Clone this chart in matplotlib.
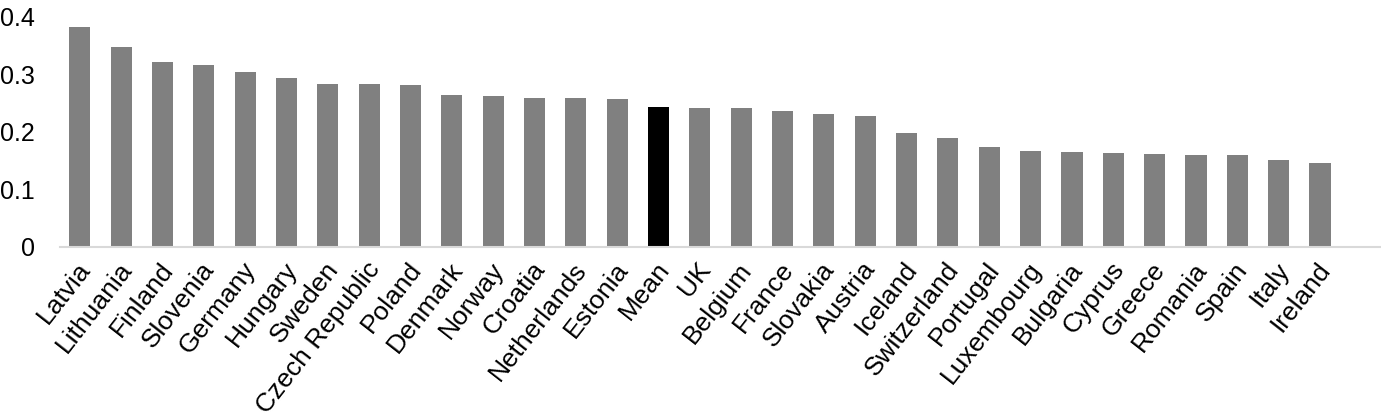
import matplotlib.pyplot as plt
from matplotlib.transforms import ScaledTranslation

countries = ['Latvia', 'Lithuania', 'Finland', 'Slovenia', 'Germany', 'Hungary', 'Sweden',
             'Czech Republic', 'Poland', 'Denmark', 'Norway', 'Croatia', 'Netherlands', 'Estonia',
             'Mean', 'UK', 'Belgium', 'France', 'Slovakia', 'Austria', 'Iceland', 'Switzerland',
             'Portugal', 'Luxembourg', 'Bulgaria', 'Cyprus', 'Greece', 'Romania', 'Spain', 'Italy',
             'Ireland']
values = [0.382, 0.347, 0.321, 0.316, 0.304, 0.293, 0.283, 0.282, 0.281, 0.263, 0.262, 0.258,
          0.258, 0.257, 0.2425, 0.241, 0.241, 0.236, 0.230, 0.227, 0.197, 0.189, 0.174, 0.166,
          0.165, 0.163, 0.161, 0.160, 0.160, 0.151, 0.146]
yticks = [0, 0.1, 0.2, 0.3, 0.4]
ytick_labels = ['0', '0.1', '0.2', '0.3', '0.4']

plt.rcParams['font.family'] = ['Liberation Sans', 'DejaVu Sans']

colors = ['#000000' if c == 'Mean' else '#808080' for c in countries]

fig = plt.figure(figsize=(13.81, 4.2), dpi=100)
ax = fig.add_axes([60 / 1381, 1 - 247 / 420, 1 - 60 / 1381, (247 - 16.5) / 420])
x = range(len(countries))
ax.bar(x, values, width=0.51, color=colors)

ax.set_ylim(0, 0.4)
ax.set_xlim(-0.48, len(countries) - 1 + 61 / 41.33)
ax.set_yticks(yticks)
ax.set_yticklabels(ytick_labels, fontsize=18)
ax.set_xticks(list(x))
ax.set_xticklabels(countries, fontsize=19, rotation=52, ha='right', va='center',
                   rotation_mode='anchor')
ax.tick_params(axis='both', length=0)
ax.tick_params(axis='y', pad=18)
ax.tick_params(axis='x', pad=13)

# nudge the rotated labels a little to the right so they end under the bars
shift = ScaledTranslation(6 / 100, 0, fig.dpi_scale_trans)
for lab in ax.get_xticklabels():
    lab.set_transform(lab.get_transform() + shift)

for s in ['top', 'right', 'left']:
    ax.spines[s].set_visible(False)
ax.spines['bottom'].set_color('#d9d9d9')
ax.spines['bottom'].set_linewidth(1.5)

fig.savefig('out.png', dpi=100)
